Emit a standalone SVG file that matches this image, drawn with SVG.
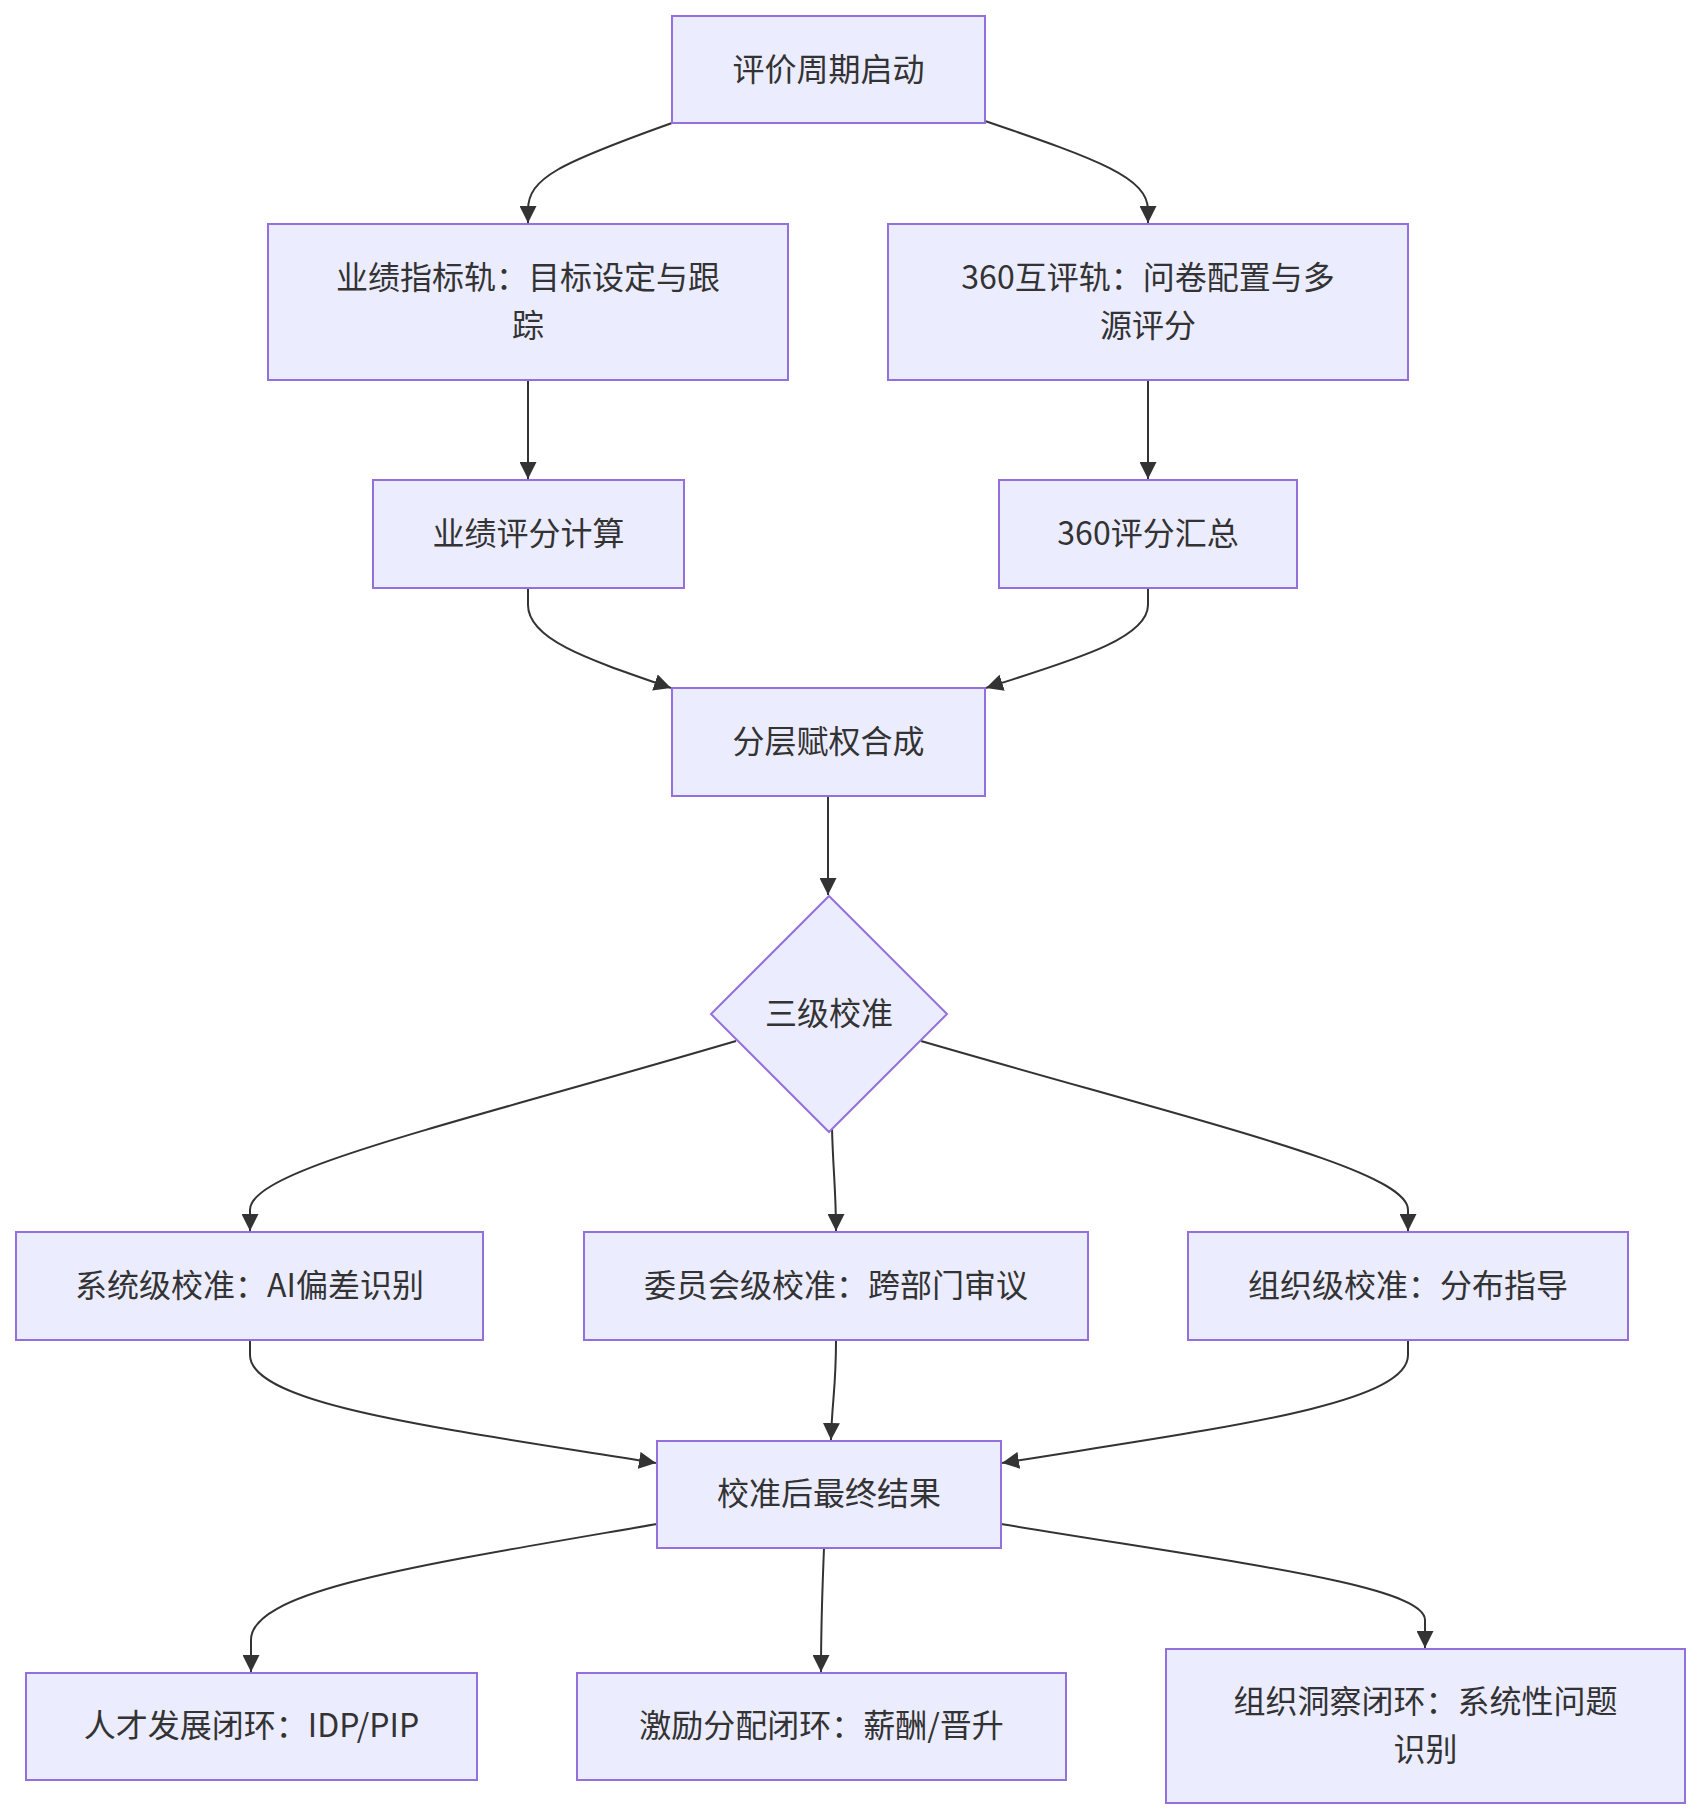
<svg xmlns="http://www.w3.org/2000/svg" width="1701" height="1820" viewBox="0 0 1701 1820">
<style>
.node rect, .node polygon { fill: #ECECFF; stroke: #9370DB; stroke-width: 2; }
.node text { font-family: "Noto Sans CJK SC", "Noto Sans", "Liberation Sans", sans-serif; font-size: 32px; fill: #333333; text-anchor: middle; dominant-baseline: central; }
.edges path { fill: none; stroke: #333333; stroke-width: 2; marker-end: url(#arrow); }
</style>
<defs>
<marker id="arrow" viewBox="0 0 10 10" refX="10" refY="5" markerUnits="userSpaceOnUse" markerWidth="17" markerHeight="17" orient="auto">
<path d="M0,0 L10,5 L0,10 z" fill="#333333"/>
</marker>
</defs>
<rect width="1701" height="1820" fill="#ffffff"/>
<g class="edges">
<path d="M672,123 C560,163 528,178 528,210 L528,223"/>
<path d="M985,121 C1100,160 1148,178 1148,210 L1148,223"/>
<path d="M528,380 L528,479"/>
<path d="M1148,380 L1148,479"/>
<path d="M528,588 L528,605 C528,640 590,660 671,688"/>
<path d="M1148,588 L1148,605 C1148,640 1066,662 986,688"/>
<path d="M828,796 L828,895"/>
<path d="M736,1041 C440,1128 250,1170 250,1210 L250,1231"/>
<path d="M832,1128 C833,1170 836,1190 836,1231"/>
<path d="M921,1041 C1210,1125 1408,1170 1408,1210 L1408,1231"/>
<path d="M250,1340 L250,1355 C250,1405 440,1428 656,1463"/>
<path d="M836,1340 C836,1390 832,1400 831,1440"/>
<path d="M1408,1340 L1408,1355 C1408,1405 1220,1428 1002,1463"/>
<path d="M657,1524 C420,1565 251,1590 251,1640 L251,1672"/>
<path d="M824,1548 C822,1600 821,1620 821,1672"/>
<path d="M1001,1524 C1230,1562 1425,1585 1425,1620 L1425,1648"/>
</g>
<g id="A" class="node"><rect x="672" y="16" width="313" height="107"/><text x="828.5" y="67">评价周期启动</text></g>
<g id="B" class="node"><rect x="268" y="224" width="520" height="156"/><text x="528" y="275">业绩指标轨：目标设定与跟</text><text x="528" y="323">踪</text></g>
<g id="D" class="node"><rect x="888" y="224" width="520" height="156"/><text x="1148" y="275">360互评轨：问卷配置与多</text><text x="1148" y="323">源评分</text></g>
<g id="C" class="node"><rect x="373" y="480" width="311" height="108"/><text x="528.5" y="531">业绩评分计算</text></g>
<g id="E" class="node"><rect x="999" y="480" width="298" height="108"/><text x="1148" y="531">360评分汇总</text></g>
<g id="F" class="node"><rect x="672" y="688" width="313" height="108"/><text x="828.5" y="739">分层赋权合成</text></g>
<g id="G1" class="node"><polygon points="829,896 947,1014 829,1132 711,1014"/><text x="829" y="1011">三级校准</text></g>
<g id="G" class="node"><rect x="16" y="1232" width="467" height="108"/><text x="249.5" y="1283">系统级校准：AI偏差识别</text></g>
<g id="H" class="node"><rect x="584" y="1232" width="504" height="108"/><text x="836" y="1283">委员会级校准：跨部门审议</text></g>
<g id="J" class="node"><rect x="1188" y="1232" width="440" height="108"/><text x="1408" y="1283">组织级校准：分布指导</text></g>
<g id="I" class="node"><rect x="657" y="1441" width="344" height="107"/><text x="829" y="1491">校准后最终结果</text></g>
<g id="K" class="node"><rect x="26" y="1673" width="451" height="107"/><text x="251.5" y="1723">人才发展闭环：IDP/PIP</text></g>
<g id="L" class="node"><rect x="577" y="1673" width="489" height="107"/><text x="821.5" y="1723">激励分配闭环：薪酬/晋升</text></g>
<g id="M" class="node"><rect x="1166" y="1649" width="519" height="154"/><text x="1425.5" y="1699">组织洞察闭环：系统性问题</text><text x="1425.5" y="1747">识别</text></g>
</svg>
